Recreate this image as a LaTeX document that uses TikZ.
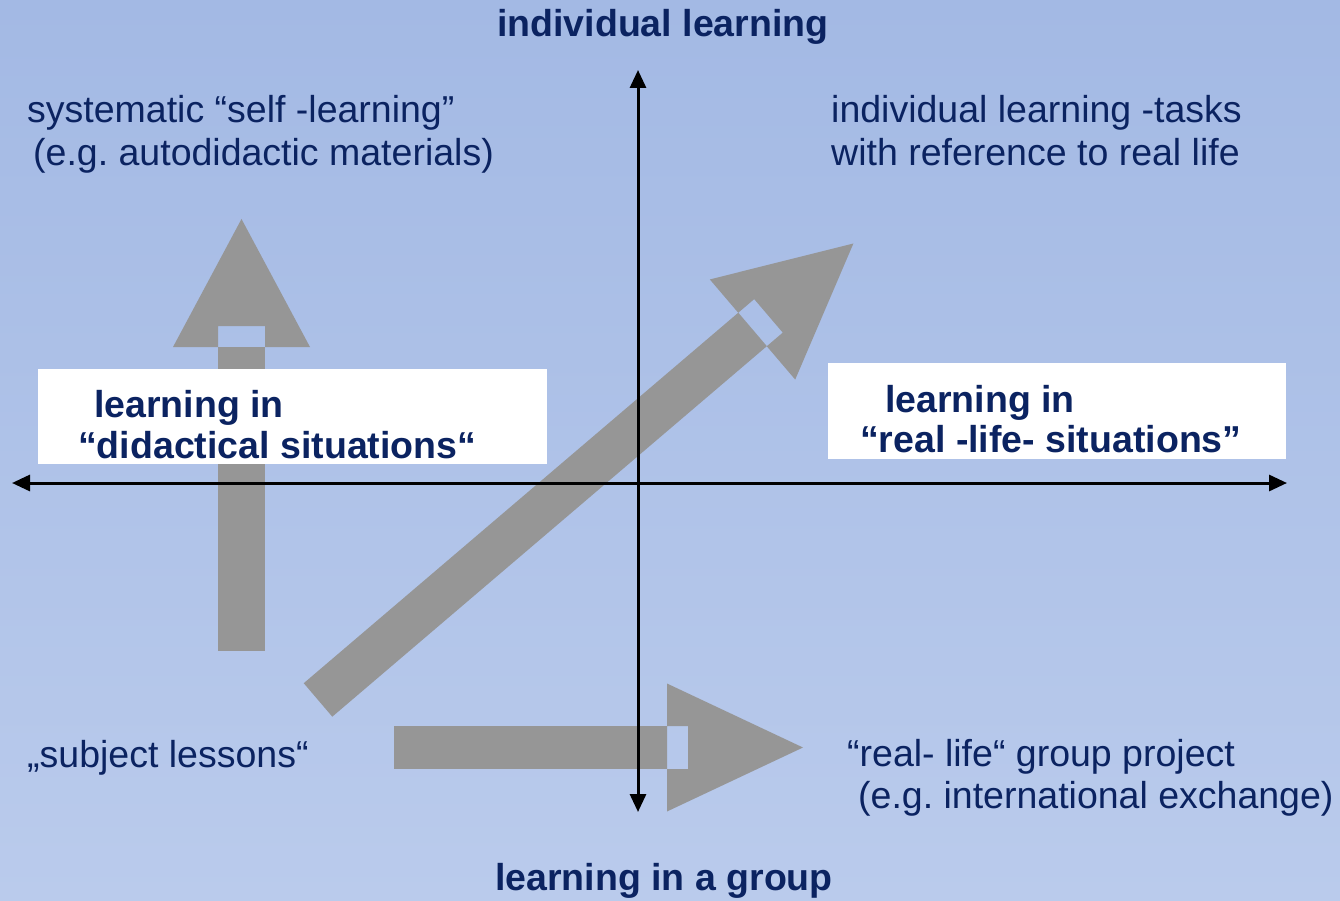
\documentclass[tikz,border=0pt]{standalone}
\usepackage{fontspec}
\setmainfont{Liberation Sans}
\usepackage{tikz}
\usetikzlibrary{arrows.meta}
\definecolor{navy}{RGB}{11,35,97}
\definecolor{bgtop}{RGB}{163,185,228}
\definecolor{bgbottom}{RGB}{186,203,236}
\definecolor{arrowgray}{RGB}{150,150,150}
\tikzset{
  font={\fontsize{37.5pt}{43pt}\selectfont},
  txt/.style={text=navy, inner sep=0pt, align=left, anchor=base west},
  boldtxt/.style={txt, font={\fontsize{37.5pt}{43pt}\selectfont\bfseries}},
  whitebox/.style={fill=white, inner sep=0pt},
  axis/.style={line width=3pt, {Triangle[length=18pt,width=16pt]}-{Triangle[length=18pt,width=16pt]}}}

% fat arrow pointing along +x, origin at the middle of the head's base
% #1 shaft length, #2 head length, #3 head half width, #4 shaft half width
\newcommand{\fatarrow}[4]{%
  \fill [arrowgray] (-#1,-#4) rectangle (0,#4);
  \fill [arrowgray, even odd rule] (0,-#3) -- (#2,0) -- (0,#3) -- cycle
    (0,-#4) rectangle (21,#4);}

\begin{document}
\begin{tikzpicture}[x=1pt, y=-1pt]
\useasboundingbox (0,0) rectangle (1340,901);
\shade [top color=bgtop, bottom color=bgbottom] (0,0) rectangle (1340,901);

% the three gray arrows
\begin{scope}[shift={(241.5,347)}, rotate=90]
\fatarrow{304}{128}{68.5}{23.5}
\end{scope}
\begin{scope}[shift={(752.5,329.5)}, rotate=40.45]
\fatarrow{571}{132.6}{65.8}{22}
\end{scope}
\begin{scope}[shift={(667,747.5)}]
\fatarrow{273}{136}{64}{21.5}
\end{scope}

\node [whitebox, minimum width=509pt, minimum height=95pt] (didbox) at (292.5,416.5) {};
\node [whitebox, minimum width=458pt, minimum height=96pt] (realbox) at (1057,411) {};

% axes
\coordinate (xl) at (12,483);
\coordinate (xr) at (1287,483);
\coordinate (yt) at (638,70);
\coordinate (yb) at (638,812);
\draw [axis] (xl) -- (xr);
\draw [axis] (yb) -- (yt);

% base anchors sit on the last line
\node [boldtxt] (top) at (497,37) {individual learning};
\node [boldtxt] (bottom) at (495,890) {learning in a group};

\node [txt] (selflearn) at (27,166) {systematic “self -learning”\\\hspace{6pt}(e.g.\ autodidactic materials)};
\node [txt] (tasks) at (831,166) {individual learning -tasks\\with reference to real life};
\node [txt] (lessons) at (27,767) {„subject lessons“};
\node [txt] (project) at (847,808) {“real- life“ group project\\[-1pt]\hspace{11pt}(e.g.\ international exchange)};

\node [boldtxt] (didtxt) at (78,458) {\hspace{16pt}learning in\\[-2pt]“didactical situations“};
\node [boldtxt] (realtxt) at (860,452) {\hspace{25pt}learning in\\[-3pt]“real -life- situations”};
\end{tikzpicture}
\end{document}
